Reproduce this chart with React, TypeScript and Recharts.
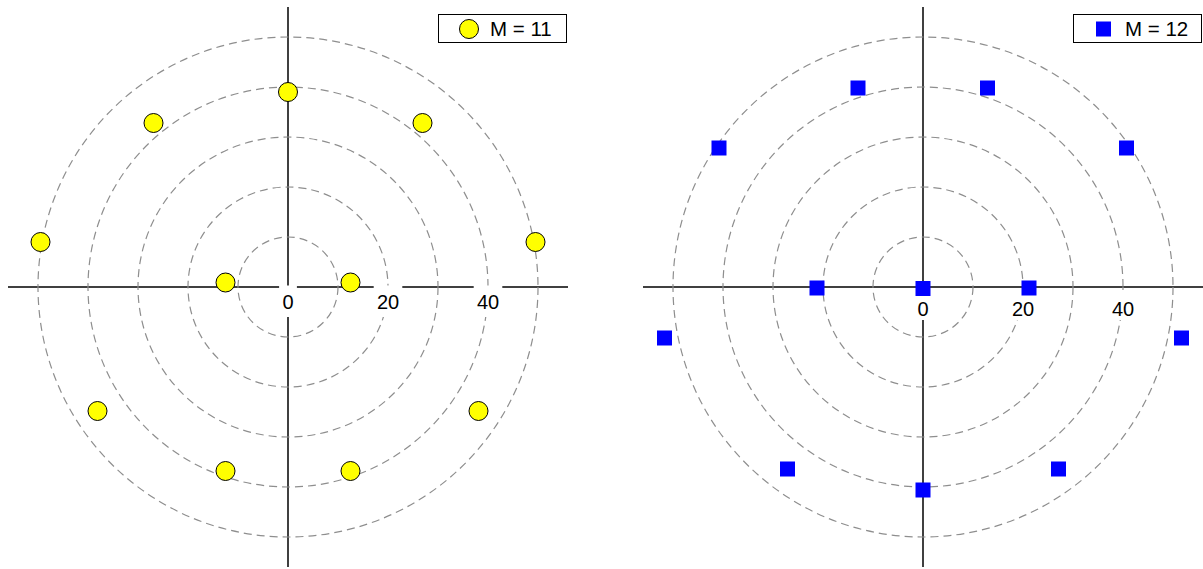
import React from 'react'
import {
  ScatterChart,
  Scatter,
  XAxis,
  YAxis,
  ReferenceLine,
  ReferenceDot,
  Legend,
} from 'recharts'

// constellation M = 11 (yellow circles)
const m11X = [0, -26.9, 26.9, -49.5, 49.5, -12.5, 12.5, -38.1, 38.1, -12.5, 12.5]
const m11Y = [39, 32.8, 32.8, 9, 9, 0.9, 0.9, -24.8, -24.8, -36.8, -36.8]

// constellation M = 12 (blue squares)
const m12X = [0, -21.2, 21.2, -13, 12.9, -40.8, 40.7, -51.7, 51.7, -27.1, 27.1, 0]
const m12Y = [-0.3, -0.2, -0.2, 39.8, 39.8, 27.8, 27.8, -10.2, -10.2, -36.4, -36.4, -40.6]

const ringRadii = [10, 20, 30, 40, 50]
const xTicks = [0, 20, 40]
const DOMAIN: [number, number] = [-56, 56]

const FONT = '"Liberation Sans", Arial, sans-serif'
const PLOT_SIZE = 560
const PX_PER_UNIT = PLOT_SIZE / (DOMAIN[1] - DOMAIN[0])

const toPoints = (xs: number[], ys: number[]) => xs.map((x, i) => ({ x, y: ys[i] }))

const YellowDot = (props: any) => (
  <circle cx={props.cx} cy={props.cy} r={9.5} fill="#ffff00" stroke="#000" strokeWidth={1} />
)

const BlueSquare = (props: any) => (
  <rect x={props.cx - 7.5} y={props.cy - 7.5} width={15} height={15} fill="#0000ff" />
)

function tickLabel(label: string, boxTop: number, boxBottom: number, textOffset: number) {
  return (props: any) => {
    const w = label.length * 10.8 + 7
    return (
      <g>
        <rect
          x={props.cx - w / 2}
          y={props.cy + boxTop}
          width={w}
          height={boxBottom - boxTop}
          fill="#fff"
        />
        <text
          x={props.cx}
          y={props.cy + textOffset}
          textAnchor="middle"
          dominantBaseline="central"
          fontSize={20}
          fontFamily={FONT}
          fill="#000"
        >
          {label}
        </text>
      </g>
    )
  }
}

function LegendBox({ label, square }: { label: string; square?: boolean }) {
  return (
    <div
      style={{
        boxSizing: 'border-box',
        width: 129,
        height: 29,
        border: '1px solid #000',
        background: '#fff',
        position: 'relative',
        fontFamily: FONT,
        fontSize: 20.5,
      }}
    >
      <svg width={40} height={27} style={{ position: 'absolute', left: 10, top: 0 }}>
        {square ? (
          <rect x={12} y={6.5} width={15} height={15} fill="#0000ff" />
        ) : (
          <circle cx={20} cy={14} r={9.5} fill="#ffff00" stroke="#000" strokeWidth={1} />
        )}
      </svg>
      <span style={{ position: 'absolute', left: 51, top: 2, lineHeight: '24px' }}>{label}</span>
    </div>
  )
}

interface PanelProps {
  data: { x: number; y: number }[]
  legend: string
  square?: boolean
  width: number
  marginLeft: number
  marginRight: number
  legendLeft: number
  labelBox: [number, number, number]
}

function Panel({ data, legend, square, width, marginLeft, marginRight, legendLeft, labelBox }: PanelProps) {
  return (
    <ScatterChart
      width={width}
      height={569}
      margin={{ top: 7, bottom: 2, left: marginLeft, right: marginRight }}
    >
      <XAxis type="number" dataKey="x" domain={DOMAIN} hide />
      <YAxis type="number" dataKey="y" domain={DOMAIN} hide />
      {ringRadii.map((r) => (
        <ReferenceDot
          key={r}
          x={0}
          y={0}
          r={r * PX_PER_UNIT}
          fill="none"
          stroke="#8e8e8e"
          strokeWidth={1.2}
          strokeDasharray="8 5"
        />
      ))}
      <ReferenceLine x={0} stroke="#000" strokeWidth={1.5} />
      <ReferenceLine y={0} stroke="#000" strokeWidth={1.5} />
      {xTicks.map((t) => (
        <ReferenceDot
          key={'t' + t}
          x={t}
          y={0}
          r={0}
          shape={tickLabel(String(t), labelBox[0], labelBox[1], labelBox[2])}
        />
      ))}
      <Scatter
        data={data}
        shape={square ? BlueSquare : YellowDot}
        isAnimationActive={false}
      />
      <Legend
        layout="horizontal"
        verticalAlign="middle"
        align="center"
        wrapperStyle={{ left: legendLeft, top: 14, width: 'auto', height: 'auto' }}
        content={() => <LegendBox label={legend} square={square} />}
      />
    </ScatterChart>
  )
}

export default function App() {
  return (
    <div style={{ position: 'absolute', left: 0, top: 0, width: 1203, height: 569, background: '#fff' }}>
      <div style={{ position: 'absolute', left: 0, top: 0 }}>
        <Panel
          data={toPoints(m11X, m11Y)}
          legend="M = 11"
          width={576}
          marginLeft={8}
          marginRight={8}
          legendLeft={438}
          labelBox={[-1.5, 30, 15]}
        />
      </div>
      <div style={{ position: 'absolute', left: 635, top: 0 }}>
        <Panel
          data={toPoints(m12X, m12Y)}
          legend="M = 12"
          square
          width={568}
          marginLeft={8}
          marginRight={0}
          legendLeft={438}
          labelBox={[3, 33, 22]}
        />
      </div>
    </div>
  )
}
